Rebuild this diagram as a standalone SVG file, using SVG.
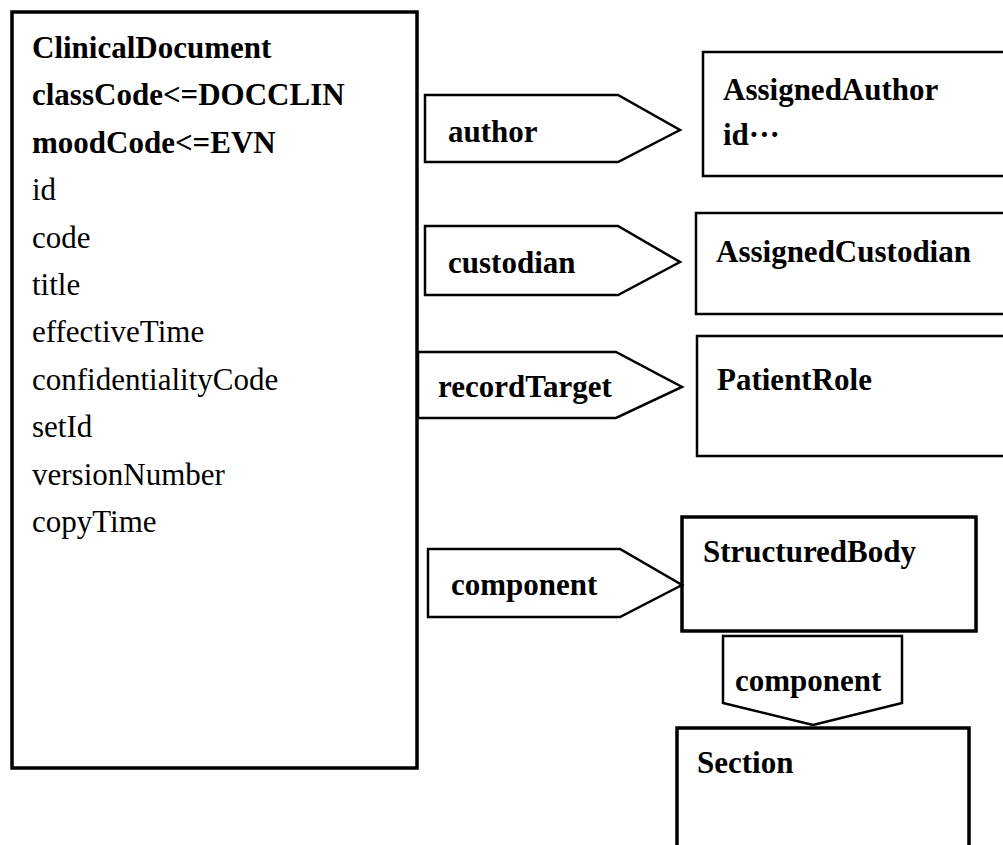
<svg xmlns="http://www.w3.org/2000/svg" width="1003" height="845" viewBox="0 0 1003 845">
<style>
.box{fill:#fff;stroke:#000;stroke-width:2.5}
.thick{stroke-width:3.5}
.arrow{fill:#fff;stroke:#000;stroke-width:2.5;stroke-linejoin:miter}
text{font-family:"Liberation Serif","Times New Roman",serif;font-size:31px;fill:#000}
.b{font-weight:bold}
</style>
<rect width="1003" height="845" fill="#fff"/>
<g id="ClinicalDocument">
<rect class="box thick" x="12" y="12" width="405" height="756"/>
<text class="b" x="32" y="58">ClinicalDocument</text>
<text class="b" x="32" y="105">classCode&lt;=DOCCLIN</text>
<text class="b" x="32" y="153">moodCode&lt;=EVN</text>
<text x="32" y="200">id</text>
<text x="32" y="248">code</text>
<text x="32" y="295">title</text>
<text x="32" y="342">effectiveTime</text>
<text x="32" y="390">confidentialityCode</text>
<text x="32" y="437">setId</text>
<text x="32" y="485">versionNumber</text>
<text x="32" y="532">copyTime</text>
</g>
<g id="AssignedAuthor">
<rect class="box" x="703" y="52" width="320" height="124"/>
<text class="b" x="723" y="100">AssignedAuthor</text>
<text class="b" x="723" y="145">id···</text>
</g>
<g id="AssignedCustodian">
<rect class="box" x="696" y="213" width="330" height="101"/>
<text class="b" x="716" y="262">AssignedCustodian</text>
</g>
<g id="PatientRole">
<rect class="box" x="697" y="336" width="330" height="120"/>
<text class="b" x="717" y="390">PatientRole</text>
</g>
<g id="StructuredBody">
<rect class="box thick" x="682" y="517" width="294" height="114"/>
<text class="b" x="703" y="562">StructuredBody</text>
</g>
<g id="Section">
<rect class="box thick" x="677" y="728" width="292" height="140"/>
<text class="b" x="697" y="773">Section</text>
</g>
<g id="connectors">
<g id="author">
<polygon class="arrow" points="425,95 618,95 680,130 618,162 425,162"/>
<text class="b" x="448" y="142">author</text>
</g>
<g id="custodian">
<polygon class="arrow" points="425,226 618,226 680,262 618,295 425,295"/>
<text class="b" x="448" y="273">custodian</text>
</g>
<g id="recordTarget">
<polygon class="arrow" points="418,352 616,352 682,387 616,418 418,418"/>
<text class="b" x="438" y="397">recordTarget</text>
</g>
<g id="component1">
<polygon class="arrow" points="428,549 620,549 682,585 620,617 428,617"/>
<text class="b" x="451" y="595">component</text>
</g>
<g id="component2">
<polygon class="arrow" points="723,636 902,636 902,703 813,725 723,703"/>
<text class="b" x="735" y="691">component</text>
</g>
</g>
</svg>
